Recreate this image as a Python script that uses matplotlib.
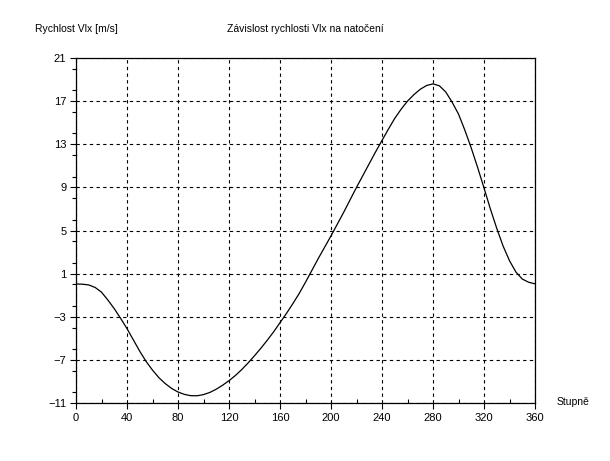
import matplotlib
matplotlib.use("Agg")
import matplotlib.pyplot as plt
import numpy as np
from matplotlib.ticker import MultipleLocator

# angle [deg] and velocity Vlx [m/s], every 5 deg
angle = list(range(0, 365, 5))
vlx = [0.04, 0.02, -0.05, -0.28, -0.72, -1.45, -2.25, -3.15, -4.1, -5.15,
       -6.2, -7.15, -7.95, -8.65, -9.2, -9.65, -9.98, -10.2, -10.32, -10.33,
       -10.22, -10.02, -9.72, -9.35, -8.93, -8.45, -7.9, -7.28, -6.62, -5.92,
       -5.18, -4.4, -3.55, -2.7, -1.8, -0.85, 0.2, 1.3, 2.4, 3.45,
       4.5, 5.6, 6.7, 7.85, 9.0, 10.1, 11.2, 12.3, 13.35, 14.4,
       15.4, 16.25, 17.0, 17.6, 18.1, 18.45, 18.6, 18.42, 17.85, 16.9,
       15.8, 14.3, 12.65, 10.85, 8.95, 7.0, 5.2, 3.55, 2.2, 1.15,
       0.5, 0.2, 0.05]
xticks = list(range(0, 361, 40))
yticks = list(range(-11, 22, 4))

TITLE = "Závislost rychlosti Vlx na natočení"
YLABEL = "Rychlost Vlx [m/s]"
XLABEL = "Stupně"

plt.rcParams["font.family"] = ["Liberation Sans", "DejaVu Sans"]

fig = plt.figure(figsize=(6.1, 4.61), dpi=100)
ax = fig.add_axes([76 / 610, 1 - 403 / 461, 459 / 610, 345 / 461])

ax.plot(angle, vlx, color="black", lw=0.9)

ax.set_xlim(0, 360)
ax.set_ylim(-11, 21)
ax.set_xticks(xticks)
ax.set_yticks(yticks)
ax.xaxis.set_minor_locator(MultipleLocator(20))
ax.yaxis.set_minor_locator(MultipleLocator(2))
ax.grid(which="major", color="black", linestyle=(0, (3, 3)), lw=0.8)

ax.tick_params(axis="both", which="major", length=4, width=0.8,
               labelsize=8, direction="out", pad=3)
ax.tick_params(axis="x", which="minor", length=3, width=0.8, direction="in")
ax.tick_params(axis="y", which="minor", length=3, width=0.8, direction="out")
for s in ax.spines.values():
    s.set_linewidth(0.9)

fig.text(35 / 610, 1 - 29 / 461, YLABEL, fontsize=7.5, ha="left", va="center")
fig.text(305 / 610, 1 - 29 / 461, TITLE, fontsize=7.5, ha="center", va="center")
fig.text(557 / 610, 1 - 402 / 461, XLABEL, fontsize=7.5, ha="left", va="center")

fig.savefig("out.png", dpi=100)
